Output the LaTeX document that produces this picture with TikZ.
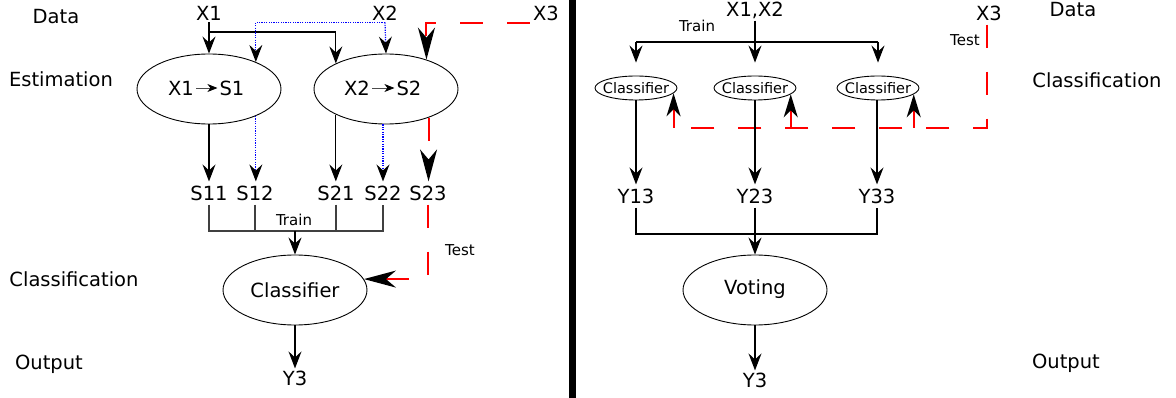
\documentclass[tikz,border=0pt]{standalone}
\usepackage{fontspec}
\setmainfont{DejaVu Sans}
\usetikzlibrary{arrows.meta,shapes.geometric}
\begin{document}
\begin{tikzpicture}[x=1pt,y=-1pt,
  lab/.style={font=\fontsize{19.5}{22}\selectfont, inner sep=2pt},
  small/.style={font=\fontsize{15}{17}\selectfont, inner sep=1pt},
  oval/.style={draw, ellipse, line width=0.9pt, inner sep=0pt,
    minimum width=144pt, minimum height=70pt, font=\fontsize{19.5}{22}\selectfont},
  smalloval/.style={draw, ellipse, line width=0.9pt, inner sep=0pt,
    minimum width=82pt, minimum height=24pt, font=\fontsize{14.5}{17}\selectfont},
  plain/.style={line width=1.2pt},
  flow/.style={line width=1.2pt, -{Stealth[length=17pt,width=13pt,inset=6pt,color=black]}},
  est/.style={blue, line width=1.2pt, dash pattern=on 1.2pt off 1.2pt,
    -{Stealth[length=17pt,width=13pt,inset=6pt,color=black]}},
  bracket/.style={line width=1.1pt, black!75},
  testline/.style={red, line width=2pt, dash pattern=on 23pt off 24pt},
  bigtip/.style={-{Stealth[length=32pt,width=17pt,inset=10pt,color=black]}},
  midtip/.style={red, line width=2pt, -{Stealth[length=23pt,width=14pt,inset=7pt,color=black]}},
  inarrow/.style={black!70, line width=0.8pt, -{Stealth[length=10pt,width=8pt,inset=3pt,color=black]}},
]
\useasboundingbox (0,0) rectangle (1176,398);

% ---------- row captions ----------
\node[lab] (dataL)  at (56,17)  {Data};
\node[lab] (estL)   at (61,79)  {Estimation};
\node[lab] (clsL)   at (74,279) {Classification};
\node[lab] (outL)   at (49,364) {Output};

\node[lab] (dataR)  at (1073,10)  {Data};
\node[lab] (clsR)   at (1097,80)  {Classification};
\node[lab] (outR)   at (1066,363) {Output};

% ---------- separator ----------
\draw[line width=7pt] (572,0) -- (572,398);

% ---------- left: two-stage scheme ----------
\node[lab] (x1) at (209,13) {X1};
\node[lab] (x2) at (385,13) {X2};
\node[lab] (x3l) at (546,13) {X3};

\node[oval] (e1) at (209,89) {};
\node[oval] (e2) at (386,89) {};
\node[lab] (e1a) at (181,88) {X1};
\node[lab] (e1b) at (232,88) {S1};
\node[lab] (e2a) at (357,88) {X2};
\node[lab] (e2b) at (409,88) {S2};
\draw[inarrow] (e1a) -- (e1b);
\draw[inarrow] (e2a) -- (e2b);

\coordinate (j1) at (209,32);
\draw[plain] (x1.south) -- (j1);
\draw[flow] (j1) -- (e1.north);
\draw[flow] (j1) -| (e2.153);
\draw[est] (x2.south) -- (e2.north);
\draw[est] (x2.south) -| (e1.30);

\draw[testline, bigtip] ([xshift=-1pt]x3l.south west) -| (e2.36);

\node[lab, inner sep=4pt] (s11) at (209,193) {S11};
\node[lab, inner sep=4pt] (s12) at (255,193) {S12};
\node[lab, inner sep=4pt] (s21) at (336,193) {S21};
\node[lab, inner sep=4pt] (s22) at (383,193) {S22};
\node[lab, inner sep=4pt] (s23) at (428,193) {S23};

\draw[flow] (e1.south) -- (s11.north);
\draw[est]  (e1.-30) -- (e1.-30 |- s12.north);
\draw[flow] (e2.-153) -- (e2.-153 |- s21.north);
\draw[est]  (s22 |- e2.south) -- (s22.north);
\draw[testline, bigtip] (e2.-34) -- (e2.-34 |- s23.north);

\coordinate (tb) at (295,231);
\draw[bracket] (s11.south) -- (s11.south |- tb) -- (s22.south |- tb) -- (s22.south);
\draw[bracket] (s12.south) -- (s12.south |- tb);
\draw[bracket] (s21.south) -- (s21.south |- tb);
\node[small] (trainL) at (294,220) {Train};

\node[oval] (cl) at (295,290) {Classifier};
\draw[flow] (tb) -- (cl.north);

\node[small] (testL) at (460,250) {Test};
\draw[testline, bigtip] (s23.south) |- (cl.9);

\node[lab] (y3l) at (295,378) {Y3};
\draw[flow] (cl.south) -- (y3l.north);

% ---------- right: ensemble with voting ----------
\node[lab] (x12) at (755,10) {X1,X2};
\node[small] (trainR) at (697,26) {Train};
\node[lab] (x3r) at (989,13) {X3};
\node[small] (testR) at (965,40) {Test};

\node[smalloval] (c1) at (636,88) {\makebox[0pt]{Classifier}};
\node[smalloval] (c2) at (755,88) {\makebox[0pt]{Classifier}};
\node[smalloval] (c3) at (878,88) {\makebox[0pt]{Classifier}};

\coordinate (rb) at (755,42);
\draw[plain] (x12.south) -- (rb);
\draw[plain] (rb -| c1) -- (rb -| c3);
\draw[flow, shorten >=13pt] (rb -| c1) -- (c1.north);
\draw[flow, shorten >=13pt] (rb) -- (c2.north);
\draw[flow, shorten >=13pt] (rb -| c3) -- (c3.north);

\coordinate (tl) at (987,128);
\draw[testline] ([xshift=-2pt, yshift=-2pt]x3r.south) |- (tl -| c1.-8);
\draw[midtip] (tl -| c1.-8) -- (c1.-8);
\draw[midtip] (tl -| c2.-10) -- (c2.-10);
\draw[midtip] (tl -| c3.-10) -- (c3.-10);

\node[lab, inner sep=4pt] (y13) at (636,196) {Y13};
\node[lab, inner sep=4pt] (y23) at (755,196) {Y23};
\node[lab, inner sep=4pt] (y33) at (877,196) {Y33};
\draw[flow] (c1.south) -- (y13.north);
\draw[flow] (c2.south) -- (y23.north);
\draw[flow] (c3.south -| y33) -- (y33.north);

\coordinate (vb) at (755,234);
\draw[plain] (y13.south) -- (y13 |- vb) -- (y33 |- vb) -- (y33.south);
\draw[plain] (y23.south) -- (vb);

\node[oval] (vo) at (755,290) {\raisebox{5pt}{Voting}};
\draw[flow] (vb) -- (vo.north);

\node[lab] (y3r) at (755,380) {Y3};
\draw[flow] (vo.south) -- (y3r.north);
\end{tikzpicture}
\end{document}
